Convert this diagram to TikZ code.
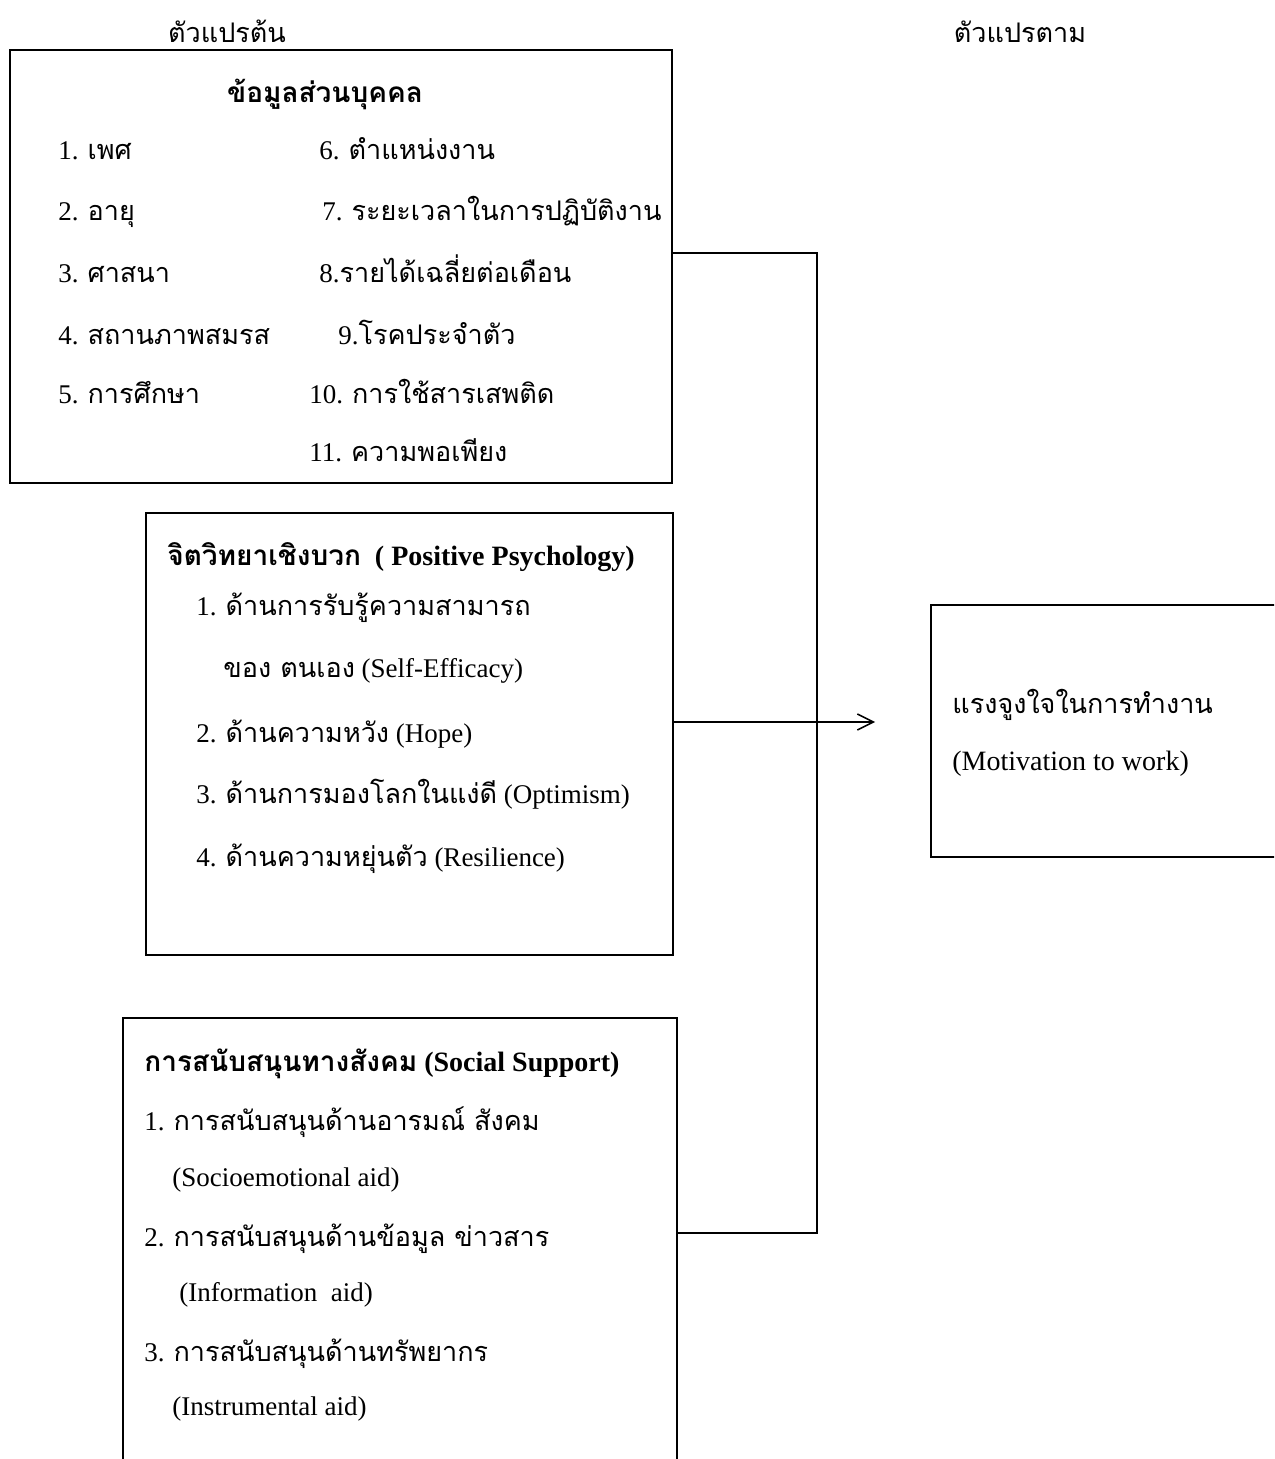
\documentclass[tikz,border=0pt]{standalone}
\usepackage{fontspec}
\setmainfont{Liberation Serif}
\newfontfamily\thaifont[Script=Thai]{Loma}
\newcommand{\thaitxt}[1]{{\thaifont #1}}
\usetikzlibrary{positioning,arrows.meta}

\begin{document}
\begin{tikzpicture}
    [x=0.5pt,y=-0.5pt,
     box/.style={draw,line width=0.9pt,inner sep=0pt},
     entry/.style={anchor=base west,inner sep=0pt,font=\fontsize{13.5}{16}\selectfont},
     heading/.style={anchor=base west,inner sep=0pt,font=\fontsize{14}{16}\selectfont\bfseries},
     link/.style={line width=0.8pt},
     flow/.style={line width=0.8pt,-{Straight Barb[length=8pt,width=8pt]}}]
    \useasboundingbox (0,0) rectangle (1274,1459);
    \clip (0,0) rectangle (1274,1459);

    % column titles
    \node[entry,anchor=base] (indep) at (227,43) {\thaitxt{ตัวแปรต้น}};
    \node[entry,anchor=base] (dep) at (1020,43) {\thaitxt{ตัวแปรตาม}};

    % the boxes
    \node[box,minimum width=331pt,minimum height=216.5pt] (personal) at (341,266.5) {};
    \node[box,minimum width=263.5pt,minimum height=221pt] (psych) at (409.5,734) {};
    \node[box,minimum width=277pt,minimum height=226pt] (social) at (400,1244) {};
    \node[box,minimum width=179.5pt,minimum height=126pt] (motive) at (1110.5,731) {};

    % personal data
    \node[heading,anchor=base] (pt) at (325,103) {\thaitxt{ข้อมูลส่วนบุคคล}};
    \node[entry] (p1) at (58,160) {1. \thaitxt{เพศ}};
    \node[entry] (p2) at (58,221) {2. \thaitxt{อายุ}};
    \node[entry] (p3) at (58,283) {3. \thaitxt{ศาสนา}};
    \node[entry] (p4) at (58,345) {4. \thaitxt{สถานภาพสมรส}};
    \node[entry] (p5) at (58,404) {5. \thaitxt{การศึกษา}};
    \node[entry] (p6) at (319,160) {6. \thaitxt{ตำแหน่งงาน}};
    \node[entry] (p7) at (322,221) {7. \thaitxt{ระยะเวลาในการปฏิบัติงาน}};
    \node[entry] (p8) at (319,283) {8.\thaitxt{รายได้เฉลี่ยต่อเดือน}};
    \node[entry] (p9) at (338,345) {9.\thaitxt{โรคประจำตัว}};
    \node[entry] (p10) at (309,404) {10. \thaitxt{การใช้สารเสพติด}};
    \node[entry] (p11) at (309,462) {11. \thaitxt{ความพอเพียง}};

    % positive psychology
    \node[heading] (qt) at (167,565) {\thaitxt{จิตวิทยาเชิงบวก}\ \ ( Positive Psychology)};
    \node[entry] (q1) at (196,615) {1. \thaitxt{ด้านการรับรู้ความสามารถ}};
    \node[entry] (q1b) at (223,677) {\thaitxt{ของ ตนเอง} (Self-Efficacy)};
    \node[entry] (q2) at (196,742) {2. \thaitxt{ด้านความหวัง} (Hope)};
    \node[entry] (q3) at (196,803) {3. \thaitxt{ด้านการมองโลกในแง่ดี} (Optimism)};
    \node[entry] (q4) at (196,866) {4. \thaitxt{ด้านความหยุ่นตัว} (Resilience)};

    % social support
    \node[heading] (st) at (144,1071) {\thaitxt{การสนับสนุนทางสังคม} (Social Support)};
    \node[entry] (s1) at (144,1130) {1. \thaitxt{การสนับสนุนด้านอารมณ์ สังคม}};
    \node[entry] (s1b) at (172,1186) {(Socioemotional aid)};
    \node[entry] (s2) at (144,1246) {2. \thaitxt{การสนับสนุนด้านข้อมูล ข่าวสาร}};
    \node[entry] (s2b) at (179,1301) {(Information\ \ aid)};
    \node[entry] (s3) at (144,1361) {3. \thaitxt{การสนับสนุนด้านทรัพยากร}};
    \node[entry] (s3b) at (172,1415) {(Instrumental aid)};

    % motivation
    \node[entry] (m1) at (952,713) {\thaitxt{แรงจูงใจในการทำงาน}};
    \node[entry,font=\fontsize{14}{16}\selectfont] (m2) at (952,770) {(Motivation to work)};

    % connectors
    \coordinate (bus) at (817,0);
    \draw[link] ([yshift=6.75pt]personal.east) -- ([yshift=6.75pt]personal.east -| bus)
        -- ([yshift=5.5pt]social.east -| bus) -- ([yshift=5.5pt]social.east);
    \coordinate (psyout) at ([yshift=6pt]psych.east);
    \draw[flow] (psyout) -- ([xshift=-27.5pt]psyout -| motive.west);
\end{tikzpicture}
\end{document}
